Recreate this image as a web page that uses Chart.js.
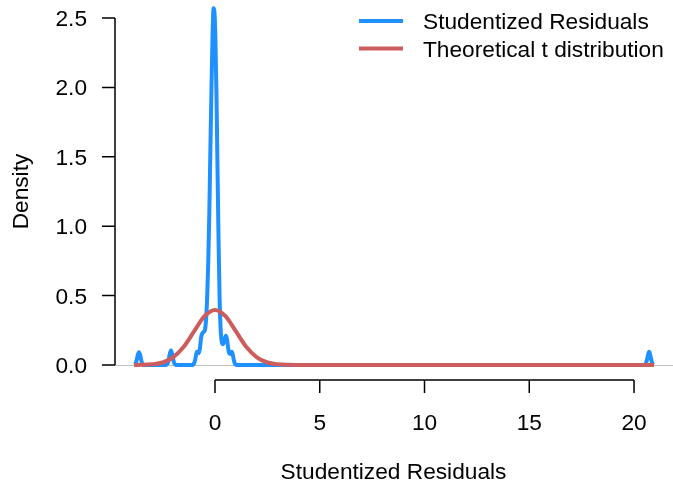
<!DOCTYPE html>
<html>
<head>
<meta charset="utf-8">
<script src="https://cdn.jsdelivr.net/npm/chart.js@4/dist/chart.umd.min.js"></script>
<style>
  html, body { margin: 0; padding: 0; background: #fff; }
  canvas { display: block; }
</style>
</head>
<body>
<canvas id="grafico-densidade" width="673" height="485"></canvas>
<script>
// densidade dos residuos estudentizados
const residuosX = [
  -3.86, -3.83, -3.78, -3.73, -3.68, -3.63, -3.58, -3.53, -3.48, -3.43, -3.38,
  -2.35, -2.3, -2.25, -2.2, -2.15, -2.1, -2.05, -2.0, -1.95, -1.9, -1.85,
  -1.1, -1.05, -1.0, -0.95, -0.9, -0.86, -0.82, -0.77, -0.72, -0.66, -0.6,
  -0.53, -0.47, -0.42, -0.37, -0.32, -0.27, -0.22, -0.17, -0.12, -0.07, -0.03,
  0.02, 0.07, 0.12, 0.17, 0.22, 0.27, 0.32, 0.38, 0.45, 0.52, 0.58, 0.63,
  0.68, 0.74, 0.8, 0.85, 0.9, 0.95, 1.0, 1.05,
  20.47, 20.52, 20.57, 20.62, 20.67, 20.72, 20.77, 20.82, 20.87, 20.92, 20.95
]
const residuosY = [
  0.001, 0.003, 0.014, 0.04, 0.075, 0.092, 0.075, 0.04, 0.014, 0.003, 0,
  0, 0.004, 0.016, 0.045, 0.085, 0.105, 0.085, 0.045, 0.016, 0.004, 0,
  0, 0.003, 0.012, 0.035, 0.075, 0.095, 0.09, 0.085, 0.12, 0.2, 0.23,
  0.24, 0.26, 0.34, 0.5, 0.75, 1.1, 1.55, 1.98, 2.35, 2.57, 2.55,
  2.35, 1.95, 1.42, 0.9, 0.48, 0.26, 0.17, 0.15, 0.18, 0.21, 0.18, 0.12,
  0.085, 0.08, 0.095, 0.075, 0.035, 0.01, 0.002, 0,
  0, 0.003, 0.013, 0.039, 0.073, 0.095, 0.073, 0.039, 0.013, 0.003, 0.001
]

// distribuicao t teorica
const teoricaX = [-3.86, -3.5, -3, -2.5, -2, -1.5, -1, -0.5, 0, 0.5, 1, 1.5, 2, 2.5, 3, 3.5, 4, 5, 10, 15, 20.95]
const teoricaY = [0.0003, 0.001, 0.005, 0.018, 0.055, 0.13, 0.242, 0.352, 0.397, 0.352, 0.242, 0.13, 0.055, 0.018, 0.005, 0.001, 0.0003, 0, 0, 0, 0]

const ticksX = [0, 5, 10, 15, 20]
const rotulosX = ['0', '5', '10', '15', '20']
const ticksY = [0, 0.5, 1, 1.5, 2, 2.5]
const rotulosY = ['0.0', '0.5', '1.0', '1.5', '2.0', '2.5']
const legendas = ['Studentized Residuals', 'Theoretical t distribution']
const tituloX = 'Studentized Residuals'
const tituloY = 'Density'

const AZUL = '#1E90FF'
const VERMELHO = '#CD5C5C'
const FONTE = '22.7px "Liberation Sans", Arial, sans-serif'

// eixos no estilo do R base, desenhados a partir das escalas do chart
const eixosR = {
  id: 'eixosR',
  beforeDatasetsDraw(chart) {
    const { ctx, chartArea, scales } = chart
    const y0 = Math.round(scales.y.getPixelForValue(0)) + 0.5
    ctx.save()
    ctx.strokeStyle = '#BEBEBE'
    ctx.lineWidth = 1
    ctx.beginPath()
    ctx.moveTo(chartArea.left, y0)
    ctx.lineTo(chartArea.right, y0)
    ctx.stroke()
    ctx.restore()
  },
  afterDraw(chart) {
    const { ctx, chartArea, scales } = chart
    ctx.save()
    ctx.strokeStyle = '#000'
    ctx.fillStyle = '#000'
    ctx.lineWidth = 1.5
    ctx.font = FONTE

    // eixo y
    const xEixo = chartArea.left + 1
    const yBase = scales.y.getPixelForValue(ticksY[0])
    const yTopo = scales.y.getPixelForValue(ticksY[ticksY.length - 1])
    ctx.beginPath()
    ctx.moveTo(xEixo, yBase)
    ctx.lineTo(xEixo, yTopo)
    ticksY.forEach(v => {
      const py = scales.y.getPixelForValue(v)
      ctx.moveTo(xEixo, py)
      ctx.lineTo(xEixo - 13, py)
    })
    ctx.stroke()
    ctx.textAlign = 'right'
    ctx.textBaseline = 'alphabetic'
    ticksY.forEach((v, i) => {
      ctx.fillText(rotulosY[i], xEixo - 28, scales.y.getPixelForValue(v) + 8)
    })

    // eixo x
    const yEixo = chartArea.bottom
    const xIni = scales.x.getPixelForValue(ticksX[0])
    const xFim = scales.x.getPixelForValue(ticksX[ticksX.length - 1])
    ctx.beginPath()
    ctx.moveTo(xIni, yEixo)
    ctx.lineTo(xFim, yEixo)
    ticksX.forEach(v => {
      const px = scales.x.getPixelForValue(v)
      ctx.moveTo(px, yEixo)
      ctx.lineTo(px, yEixo + 13)
    })
    ctx.stroke()
    ctx.textAlign = 'center'
    ticksX.forEach((v, i) => {
      ctx.fillText(rotulosX[i], scales.x.getPixelForValue(v), yEixo + 50)
    })

    // titulos
    ctx.fillText(tituloX, (chartArea.left + chartArea.right) / 2, 479)
    ctx.save()
    ctx.translate(28, (yBase + yTopo) / 2)
    ctx.rotate(-Math.PI / 2)
    ctx.fillText(tituloY, 0, 0)
    ctx.restore()

    // legenda
    const cores = [AZUL, VERMELHO]
    ctx.lineWidth = 4
    ctx.textAlign = 'left'
    legendas.forEach((txt, i) => {
      const ly = 21 + i * 27.5
      ctx.strokeStyle = cores[i]
      ctx.beginPath()
      ctx.moveTo(359, ly)
      ctx.lineTo(403, ly)
      ctx.stroke()
      ctx.fillText(txt, 423, ly + 8)
    })
    ctx.restore()
  }
}

const contexto = document.getElementById('grafico-densidade').getContext('2d')
new Chart(contexto, {
  type: 'line',
  data: {
    datasets: [
      {
        label: legendas[0],
        data: residuosX.map((x, i) => ({ x, y: residuosY[i] })),
        borderColor: AZUL,
        borderWidth: 4,
        pointRadius: 0,
        cubicInterpolationMode: 'monotone',
        fill: false,
        order: 2
      },
      {
        label: legendas[1],
        data: teoricaX.map((x, i) => ({ x, y: teoricaY[i] })),
        borderColor: VERMELHO,
        borderWidth: 4,
        pointRadius: 0,
        cubicInterpolationMode: 'monotone',
        fill: false,
        order: 1
      }
    ]
  },
  options: {
    responsive: false,
    animation: false,
    devicePixelRatio: 1,
    layout: { padding: { left: 114, right: 0, top: 0, bottom: 105 } },
    scales: {
      x: { type: 'linear', min: -4.82, max: 21.86, display: false },
      y: { type: 'linear', min: -0.108, max: 2.63, display: false }
    },
    plugins: { legend: { display: false }, tooltip: { enabled: false } }
  },
  plugins: [eixosR]
})
</script>
</body>
</html>
